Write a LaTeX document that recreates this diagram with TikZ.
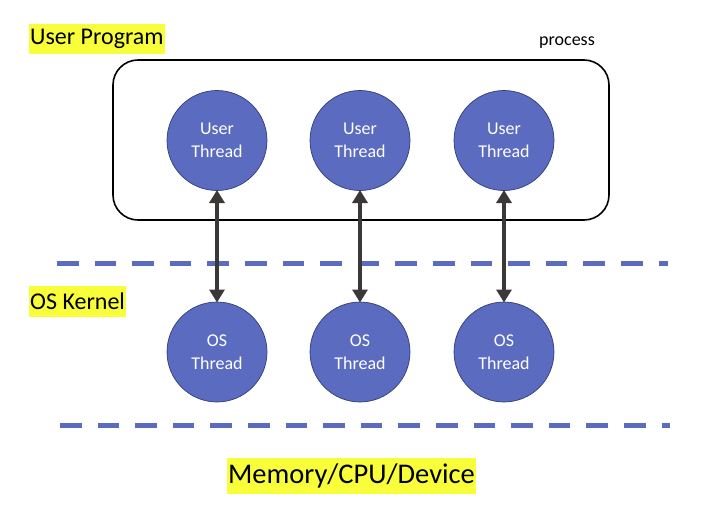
\documentclass[tikz,border=0pt]{standalone}
\usepackage{fontspec}
\setmainfont{Carlito}
\usetikzlibrary{arrows.meta}
\definecolor{thread}{RGB}{90,107,192}
\definecolor{threadborder}{RGB}{50,62,120}
\definecolor{hl}{RGB}{248,255,58}
\definecolor{arrowgray}{RGB}{59,56,56}
\tikzset{
  thr/.style={circle, fill=thread, draw=threadborder, line width=0.7pt, minimum size=100pt, inner sep=0pt, outer sep=0pt, text=white, align=center, font=\fontsize{18}{23}\selectfont},
  hlabel/.style={fill=hl, inner xsep=1pt, inner ysep=0pt, text=black},
  layerline/.style={draw=thread, line width=5pt, dash pattern=on 21.5pt off 16.1pt},
  link/.style={draw=arrowgray, line width=4.5pt, {Triangle[width=15pt,length=13pt]}-{Triangle[width=15pt,length=13pt]}, shorten <=-0.5pt, shorten >=-0.5pt}
}
\begin{document}
\begin{tikzpicture}[x=1pt,y=-1pt]
\useasboundingbox (0,0) rectangle (707,511);
% process box
\draw[line width=1.6pt, rounded corners=25pt] (113,60) rectangle (609,220);
\node[font=\fontsize{18}{20}\selectfont] (proc) at (567,43) {process};
% labels
\node[hlabel, anchor=west, minimum height=30pt, font=\fontsize{24}{28}\selectfont] (up) at (29,39) {User Program};
\node[hlabel, anchor=west, minimum height=31pt, font=\fontsize{24}{28}\selectfont] (osk) at (29,301.5) {OS Kernel};
\node[hlabel, minimum height=36pt, font=\fontsize{28.5}{32}\selectfont] (mem) at (351.5,476) {Memory/CPU/Device};
% threads
\node[thr] (u1) at (217,140.5) {User\\Thread};
\node[thr] (u2) at (360,140.5) {User\\Thread};
\node[thr] (u3) at (504,140.5) {User\\Thread};
\node[thr] (o1) at (217,352) {OS\\Thread};
\node[thr] (o2) at (360,352) {OS\\Thread};
\node[thr] (o3) at (504,352) {OS\\Thread};
% dashed layer lines
\coordinate (d1a) at (57,263);
\coordinate (d1b) at (668,263);
\coordinate (d2a) at (60,425);
\coordinate (d2b) at (670,425);
\draw[layerline] (d1a) -- (d1b);
\draw[layerline] (d2a) -- (d2b);
% links
\draw[link] (u1) -- (o1);
\draw[link] (u2) -- (o2);
\draw[link] (u3) -- (o3);
\end{tikzpicture}
\end{document}
